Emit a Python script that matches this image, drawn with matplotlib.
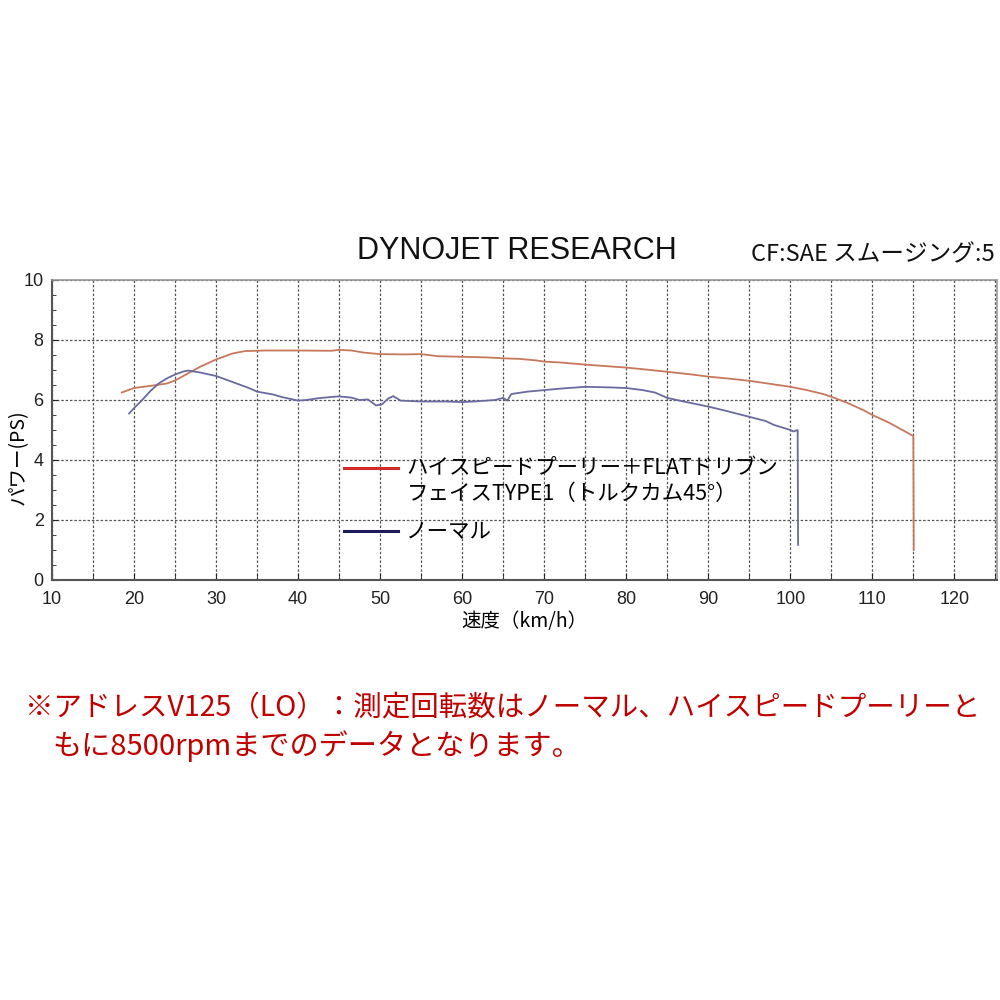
import matplotlib
matplotlib.use("Agg")
import matplotlib.pyplot as plt
from matplotlib.lines import Line2D
from matplotlib.ticker import MultipleLocator

plt.rcParams['font.family'] = ['Liberation Sans Narrow', 'Liberation Sans', 'Noto Sans CJK JP', 'DejaVu Sans']

# ---- data ----
hs_speed = [18.5, 20, 22, 24, 25, 26, 27, 28, 30, 31, 32, 33.5, 36, 40, 44, 45, 46.5, 48, 50, 53, 55,
            57, 60, 63, 65, 67, 69, 70, 72, 75, 78, 80, 83, 85, 88, 90, 93, 95, 98, 100, 102, 104,
            105, 107, 109, 110, 112, 114, 115, 115.05]
hs_power = [6.25, 6.4, 6.47, 6.55, 6.65, 6.8, 6.95, 7.1, 7.35, 7.45, 7.55, 7.63, 7.65, 7.65, 7.64, 7.67,
            7.65, 7.58, 7.53, 7.52, 7.53, 7.46, 7.44, 7.42, 7.39, 7.37, 7.32, 7.28, 7.25, 7.18, 7.12,
            7.08, 7.0, 6.94, 6.85, 6.78, 6.7, 6.64, 6.52, 6.44, 6.33, 6.2, 6.11, 5.9, 5.65, 5.5, 5.25,
            4.95, 4.8, 1.0]

nm_speed = [19.4, 20, 21, 22, 23, 24, 25, 26, 26.6, 28, 30, 32, 34, 35, 37, 38, 40, 41, 42.5, 44, 45,
            46.5, 47.5, 48.5, 49.5, 50.2, 51, 51.6, 52.5, 55, 58, 60, 62, 64, 65, 65.5, 66, 68, 70, 72,
            75, 78, 80, 82, 83.5, 85, 87, 90, 92, 95, 97, 98, 100, 100.4, 100.9, 100.95]
nm_power = [5.55, 5.73, 6.0, 6.3, 6.55, 6.72, 6.85, 6.95, 6.98, 6.92, 6.8, 6.6, 6.4, 6.28, 6.18, 6.1,
            5.98, 6.0, 6.06, 6.1, 6.12, 6.08, 6.0, 6.02, 5.82, 5.85, 6.05, 6.13, 5.98, 5.95, 5.95, 5.93,
            5.96, 6.0, 6.07, 5.98, 6.2, 6.28, 6.33, 6.38, 6.44, 6.42, 6.4, 6.33, 6.25, 6.07, 5.95, 5.78,
            5.65, 5.44, 5.3, 5.17, 5.0, 4.95, 5.0, 1.17]

legend_labels = ['ハイスピードプーリー＋FLATドリブン\nフェイスTYPE1（トルクカム45°）', 'ノーマル']
x_ticks = [10, 20, 30, 40, 50, 60, 70, 80, 90, 100, 110, 120]
y_ticks = [0, 2, 4, 6, 8, 10]

jp = ['Noto Sans CJK JP', 'DejaVu Sans']

fig = plt.figure(figsize=(10, 10), dpi=100)
ax = fig.add_axes([0.052, 0.42, 0.945, 0.30])

ax.plot(hs_speed, hs_power, color='#c8785a', lw=1.3, zorder=3)
ax.plot(nm_speed, nm_power, color='#6a6aa0', lw=1.3, zorder=3)

ax.set_xlim(10, 125.2)
ax.set_ylim(0, 10)
ax.set_xticks(x_ticks)
ax.xaxis.set_minor_locator(MultipleLocator(5))
ax.set_yticks(y_ticks)
ax.yaxis.set_minor_locator(MultipleLocator(0.5))
ax.grid(True, which='both', axis='x', color='#555555', ls=(0, (2, 1.5)), lw=0.9)
ax.grid(True, which='major', axis='y', color='#555555', ls=(0, (2, 1.5)), lw=0.9)
ax.tick_params(axis='both', which='both', direction='in', labelsize=13, colors='#222222')
ax.tick_params(axis='x', which='both', length=5, pad=8)
ax.tick_params(axis='y', which='major', length=4, pad=6)
ax.tick_params(axis='y', which='minor', length=3)
for s in ['left', 'bottom']:
    ax.spines[s].set_color('#555555')
    ax.spines[s].set_linewidth(1.5)
for s in ['top', 'right']:
    ax.spines[s].set_color('#999999')
    ax.spines[s].set_linewidth(1.2)

ax.set_ylabel('パワー(PS)', family=jp, fontsize=14)
ax.yaxis.set_label_coords(-0.025, 0.41)
ax.set_xlabel('速度（km/h）', family=jp, fontsize=14, labelpad=2)

handles = [Line2D([0], [0], color='#d42a2a', lw=2.2),
           Line2D([0], [0], color='#1c1c5c', lw=2.2)]
leg = ax.legend(handles, legend_labels, loc='upper left', bbox_to_anchor=(0.293, 0.46),
                frameon=False, handlelength=2.5, handletextpad=0.4, labelspacing=0.75,
                borderpad=0.2, prop={'family': jp, 'size': 15.5})
leg.get_texts()[0].set_linespacing(1.25)
# align the first sample line with the first text line
h0 = leg.legend_handles[0]
yd = h0.get_ydata()
h0.set_ydata([v + 10.5 for v in yd])

fig.text(0.517, 0.749, 'DYNOJET RESEARCH', ha='center', va='center', fontsize=22,
         family=['Liberation Sans', 'DejaVu Sans'], color='#111111')
fig.text(0.995, 0.745, 'CF:SAE スムージング:5', ha='right', va='center', fontsize=17,
         family=jp, color='#111111')

fig.text(0.025, 0.292, '※アドレスV125（LO）：測定回転数はノーマル、ハイスピードプーリーと',
         ha='left', va='center', fontsize=20.5, family=jp, color='#c00000')
fig.text(0.052, 0.254, 'もに8500rpmまでのデータとなります。',
         ha='left', va='center', fontsize=21, family=jp, color='#c00000')

fig.savefig('out.png', dpi=100, facecolor='white')
